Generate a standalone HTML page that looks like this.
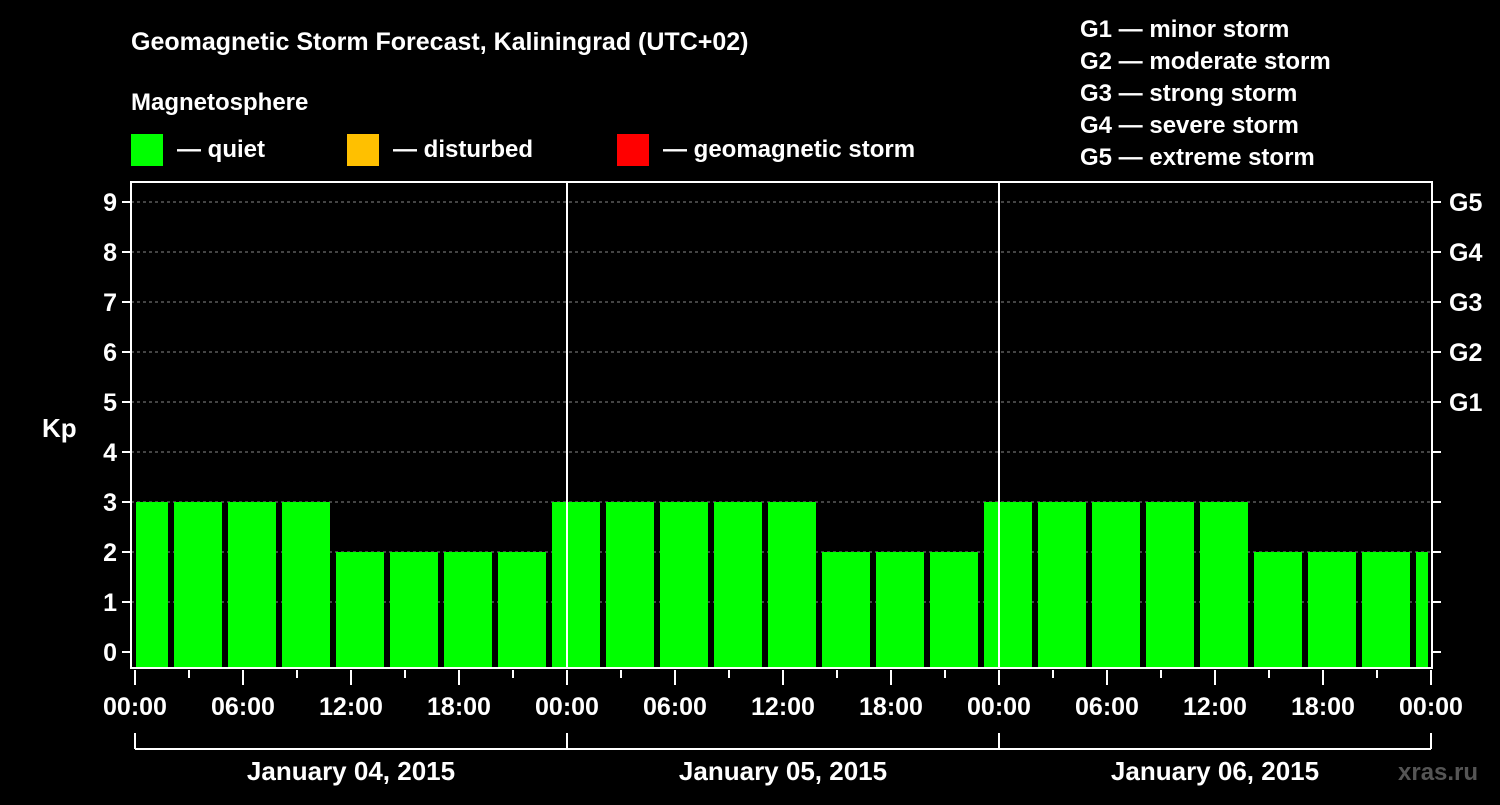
<!DOCTYPE html>
<html><head><meta charset="utf-8"><style>
body{margin:0;background:#000;}
svg text{font-family:"Liberation Sans",Arial,sans-serif;font-weight:bold;fill:#fff;}
</style></head><body>
<svg width="1500" height="800" viewBox="0 0 1500 800">
<rect width="1500" height="800" fill="#000"/>
<text x="131" y="50" font-size="25">Geomagnetic Storm Forecast, Kaliningrad (UTC+02)</text>
<text x="131" y="110" font-size="24">Magnetosphere</text>
<g><rect x="131" y="134" width="32" height="32" fill="#00ff00"/><text x="177" y="157" font-size="24">— quiet</text></g>
<g><rect x="347" y="134" width="32" height="32" fill="#ffc000"/><text x="393" y="157" font-size="24">— disturbed</text></g>
<g><rect x="617" y="134" width="32" height="32" fill="#ff0000"/><text x="663" y="157" font-size="24">— geomagnetic storm</text></g>
<g font-size="24">
<text x="1080" y="37">G1 — minor storm</text>
<text x="1080" y="69">G2 — moderate storm</text>
<text x="1080" y="101">G3 — strong storm</text>
<text x="1080" y="133">G4 — severe storm</text>
<text x="1080" y="165">G5 — extreme storm</text>
</g>
<text x="42" y="437" font-size="26">Kp</text>
<text x="1398" y="780" font-size="24" fill="#555" style="fill:#555">xras.ru</text>
<g id="grid"></g>
<g id="bars"></g>
<g id="axes"></g>
</svg>
<script>
const kpValues=[3,3,3,3,2,2,2,2, 3,3,3,3,3,2,2,2, 3,3,3,3,3,2,2,2,2];
const yTicks=[0,1,2,3,4,5,6,7,8,9];
const gLabels=["G1","G2","G3","G4","G5"];
const gLevels=[5,6,7,8,9];
const xLabels=["00:00","06:00","12:00","18:00","00:00","06:00","12:00","18:00","00:00","06:00","12:00","18:00","00:00"];
const dayLabels=["January 04, 2015","January 05, 2015","January 06, 2015"];
const NS="http://www.w3.org/2000/svg";
const L=131,R=1432,T=182,B=668,X0=135,DAYW=432;
const y=v=>652-50*v;
const xh=h=>X0+h*DAYW/24;
function mk(tag,attrs,parent){const e=document.createElementNS(NS,tag);for(const k in attrs)e.setAttribute(k,attrs[k]);document.getElementById(parent).appendChild(e);return e;}
yTicks.forEach(v=>{if(v>0){const g=mk('line',{x1:L,x2:R,y1:y(v),y2:y(v),stroke:'#888','stroke-dasharray':'3,3','stroke-width':1},'grid');

}});
kpValues.forEach((v,i)=>{const c=xh(0.5+3*i);let x1=Math.max(c-24,136),x2=Math.min(c+24,1428);
const b=mk('rect',{x:x1,y:y(v),width:x2-x1,height:B-1-y(v),fill:'#00ff00'},'bars');

});
const ax='axes';
const box=mk('rect',{x:L,y:T,width:R-L,height:B-T,fill:'none',stroke:'#fff','stroke-width':2},ax);


[1,2].forEach(d=>{const l=mk('line',{x1:xh(24*d),x2:xh(24*d),y1:T,y2:B,stroke:'#fff','stroke-width':2},ax);

});
yTicks.forEach(v=>{mk('line',{x1:L-9,x2:L,y1:y(v),y2:y(v),stroke:'#fff','stroke-width':2},ax);
mk('line',{x1:R,x2:R+9,y1:y(v),y2:y(v),stroke:'#fff','stroke-width':2},ax);
const t=mk('text',{x:L-14,y:y(v)+9,'font-size':25,'text-anchor':'end'},ax);t.textContent=v;

});
gLevels.forEach((v,i)=>{const t=mk('text',{x:1449,y:y(v)+9,'font-size':25},ax);t.textContent=gLabels[i];

});
for(let k=0;k<=24;k++){const x=xh(3*k);const major=k%2==0;
mk('line',{x1:x,x2:x,y1:B+2,y2:B+(major?17:10),stroke:'#fff','stroke-width':2},ax);}
xLabels.forEach((s,i)=>{const t=mk('text',{x:xh(6*i),y:715,'font-size':25,'text-anchor':'middle'},ax);t.textContent=s;

});
mk('line',{x1:X0,x2:xh(72),y1:749,y2:749,stroke:'#fff','stroke-width':2},ax);
[0,1,2,3].forEach(d=>mk('line',{x1:xh(24*d),x2:xh(24*d),y1:733,y2:749,stroke:'#fff','stroke-width':2},ax));
dayLabels.forEach((s,i)=>{const t=mk('text',{x:xh(24*i+12),y:780,'font-size':26,'text-anchor':'middle'},ax);t.textContent=s;

});
</script>
</body></html>
